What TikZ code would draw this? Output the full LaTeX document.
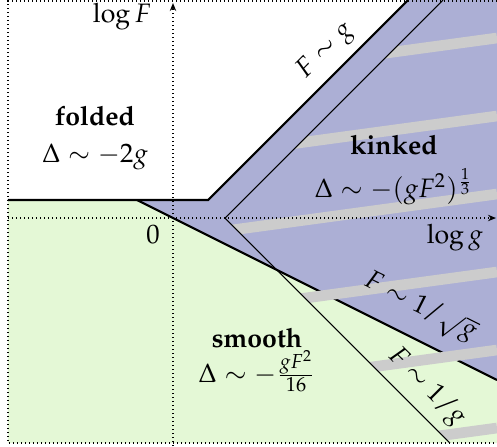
\documentclass[tikz,border=0pt]{standalone}
\usepackage[T1]{fontenc}
\usepackage{amsmath}
\usepackage{mathpazo}
\usepackage{xcolor}
\usepackage{tikz}
\usetikzlibrary{arrows.meta}
\definecolor{kinkblue}{RGB}{172,175,213}
\definecolor{smoothgreen}{RGB}{228,248,214}
\definecolor{stripegray}{RGB}{204,204,204}

\begin{document}
\begin{tikzpicture}[
  x=0.375pt, y=0.375pt,
  phase/.style={align=center},
  bound/.style={line width=0.8pt},
  guide/.style={line width=0.4pt},
  axis/.style={densely dotted, line width=0.5pt},
  >={Stealth[length=3pt,width=2.4pt]},
  stripe/.style={stripegray, line width=4pt},
]
\useasboundingbox (-173,-228) rectangle (324,218);
% corners of the phase boundaries
\coordinate (left) at (-165,18);
\coordinate (foldL) at (-36,18);
\coordinate (foldR) at (35,18);
\coordinate (foldT) at (235,218);
\coordinate (sqrtE) at (324,-162);
\coordinate (vtx) at (52,0);
\coordinate (linT) at (270,218);
\coordinate (invB) at (277,-225);
% regions
\fill[smoothgreen] (left) -- (foldL) -- (sqrtE) -- (324,-225) -- (-165,-225) -- cycle;
\fill[kinkblue] (foldL) -- (foldR) -- (foldT) -- (324,218) -- (sqrtE) -- cycle;
\draw[bound] (left) -- (foldR) -- (foldT);
\draw[bound] (foldL) -- (sqrtE);
% stripes right of the thin lines
\begin{scope}
  \clip (vtx) -- (linT) -- (330,218) -- (330,-225) -- (invB) -- cycle;
  \foreach \y in {180,102,...,-210}
    \draw[stripe] (0,\y-44) -- (324,\y);
\end{scope}
\draw[guide] (linT) -- (vtx) -- (invB);
% axes
\draw[axis] (324,217) -- (-165,217) -- (-165,-225) -- (324,-225);
\draw[axis,->] (0,-228) -- (0,215);
\draw[axis,->] (-165,0) -- (323,0);
\node (logF) at (-51,201) {$\log F$};
\node (zero) at (-20,-17) {$0$};
\node (logg) at (282,-20) {$\log g$};
% phases
\node[phase] (folded) at (-78,80) {\textbf{folded}\\[2pt] $\Delta\sim -2g$};
\node[phase] (kinked) at (221,48) {\textbf{kinked}\\[4pt] $\Delta\sim -(gF^2)^{\frac{1}{3}}$};
\node[phase] (smooth) at (84,-142) {\textbf{smooth}\\ $\Delta\sim -\frac{gF^2}{16}$};
\path (foldR) -- node[pos=0.667, sloped, above] (lblg) {$F\sim g$} (foldT);
\path (foldL) -- node[pos=0.749, sloped, above=2pt] (lblsqrt) {$F\sim 1/\sqrt{g}$} (sqrtE);
\path (vtx) -- node[pos=0.824, sloped, above] (lblinv) {$F\sim 1/g$} (invB);
\end{tikzpicture}
\end{document}
